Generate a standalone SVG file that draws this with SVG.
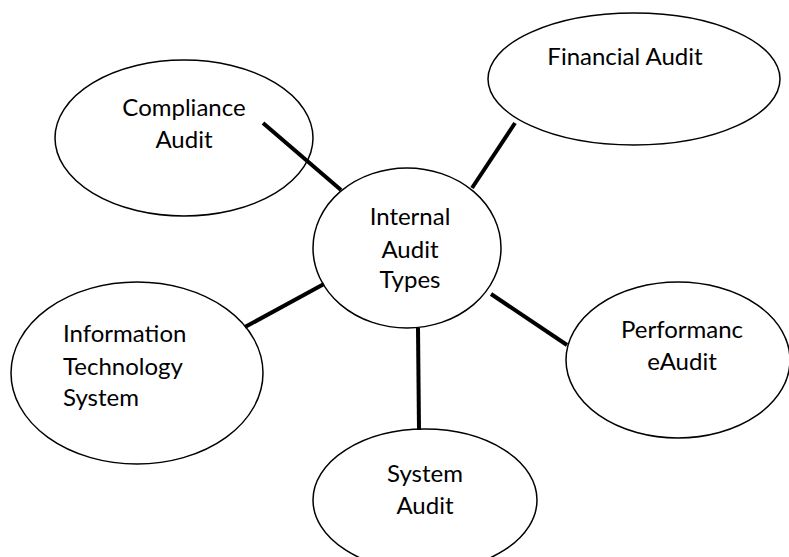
<svg xmlns="http://www.w3.org/2000/svg" width="789" height="557" viewBox="0 0 789 557">
<style>
.n ellipse{fill:#fff;stroke:#000;stroke-width:1.5}
.n text{font-family:Lato,"Liberation Sans",sans-serif;font-size:24px;fill:#000}
.c line{stroke:#000;stroke-width:4}
</style>
<rect width="789" height="557" fill="#fff"/>
<g class="n" id="compliance">
<ellipse cx="184" cy="138" rx="129" ry="78"/>
<text x="184" y="116" text-anchor="middle">Compliance</text>
<text x="184" y="148" text-anchor="middle">Audit</text>
</g>
<g class="n" id="financial">
<ellipse cx="634" cy="79" rx="146" ry="66"/>
<text x="625" y="65" text-anchor="middle">Financial Audit</text>
</g>
<g class="n" id="center">
<ellipse cx="407" cy="248" rx="94" ry="80"/>
<text x="410" y="225" text-anchor="middle">Internal</text>
<text x="410" y="258" text-anchor="middle">Audit</text>
<text x="410" y="288" text-anchor="middle">Types</text>
</g>
<g class="n" id="its">
<ellipse cx="137" cy="373" rx="126" ry="91"/>
<text x="63" y="342">Information</text>
<text x="63" y="375">Technology</text>
<text x="63" y="406">System</text>
</g>
<g class="n" id="performance">
<ellipse cx="678" cy="360" rx="112" ry="78"/>
<text x="682" y="338" text-anchor="middle">Performanc</text>
<text x="682" y="370" text-anchor="middle">eAudit</text>
</g>
<g class="n" id="system">
<ellipse cx="425" cy="500" rx="112" ry="71"/>
<text x="425" y="482" text-anchor="middle">System</text>
<text x="425" y="514" text-anchor="middle">Audit</text>
</g>
<g class="c" id="connectors">
<line x1="263" y1="123" x2="341" y2="190"/>
<line x1="515" y1="123" x2="472" y2="188"/>
<line x1="245" y1="327" x2="324" y2="284"/>
<line x1="491" y1="294" x2="567" y2="345"/>
<line x1="418" y1="328" x2="419" y2="430"/>
</g>
</svg>
